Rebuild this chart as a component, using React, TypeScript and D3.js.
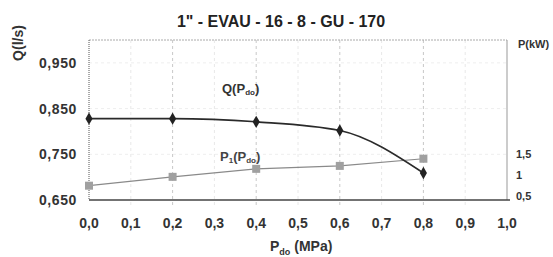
import React from 'react';
import * as d3 from 'd3';

// values
const pressure = [0.0, 0.2, 0.4, 0.6, 0.8];
const flow = [0.828, 0.828, 0.821, 0.802, 0.709];
const power = [0.74, 0.95, 1.14, 1.21, 1.38];
const xTicks = [0, 0.1, 0.2, 0.3, 0.4, 0.5, 0.6, 0.7, 0.8, 0.9, 1.0];
const yTicks = [0.65, 0.75, 0.85, 0.95];
const yRightTicks = [0.5, 1, 1.5];

const W = 553;
const H = 257;
const margin = { top: 40, right: 46, bottom: 57, left: 89 };
const font = '"Liberation Sans", Arial, sans-serif';

const App: React.FC = () => {
  const x = d3.scaleLinear().domain([0, 1]).range([margin.left, W - margin.right]);
  const y = d3.scaleLinear().domain([0.65, 1.0]).range([H - margin.bottom, margin.top]);
  const y2 = d3.scaleLinear().domain([0.4, 4.2]).range([H - margin.bottom, margin.top]);

  const fmt = (v: number, d: number) => v.toFixed(d).replace('.', ',');

  const qLine = d3.line<number>()
    .x((_d, i) => x(pressure[i]))
    .y(d => y(d))
    .curve(d3.curveMonotoneX);
  const pLine = d3.line<number>()
    .x((_d, i) => x(pressure[i]))
    .y(d => y2(d));

  const x0 = x(0), x1 = x(1), yb = y(0.65), yt = y(1.0);
  const diamond = d3.symbol().type(d3.symbolDiamond).size(44)();

  return (
    <svg width={W} height={H} style={{ position: 'absolute', left: 0, top: 0, background: '#fff' }} fontFamily={font}>
      {/* grid */}
      {xTicks.slice(1, -1).map((t, i) => (
        <line key={'gx' + i} x1={x(t)} x2={x(t)} y1={yt} y2={yb + 6}
          stroke={i % 2 === 1 ? '#c8c8c8' : '#e8e8e8'} strokeDasharray="3,3" />
      ))}
      {yTicks.slice(1).map((t, i) => (
        <line key={'gy' + i} x1={x0} x2={x1} y1={y(t)} y2={y(t)} stroke="#eeeeee" strokeDasharray="3,3" />
      ))}
      {/* frame */}
      <line x1={x0} x2={x1} y1={yt} y2={yt} stroke="#aaa" strokeDasharray="2,1" />
      <line x1={x1} x2={x1} y1={yt} y2={yb} stroke="#999" />
      <line x1={x0} x2={x0} y1={yt} y2={yb} stroke="#555" strokeDasharray="1,1" />
      <line x1={x0} x2={x1 + 3} y1={yb} y2={yb} stroke="#444" strokeWidth={1.3} />

      {/* title */}
      <text x={281} y={27} textAnchor="middle" fontSize={16} fontWeight="bold" fill="#222">
        1" - EVAU - 16 - 8 - GU - 170
      </text>

      {/* left axis */}
      {yTicks.map((t, i) => (
        <text key={'yl' + i} x={77} y={y(t) + 5} textAnchor="end" fontSize={14} fontWeight="bold" fill="#333" letterSpacing={0.6}>
          {fmt(t, 3)}
        </text>
      ))}
      <text transform="translate(23,43) rotate(-90)" textAnchor="middle" fontSize={14} fontWeight="bold" fill="#333">
        Q(l/s)
      </text>

      {/* right axis */}
      {yRightTicks.map((t, i) => (
        <text key={'yr' + i} x={516} y={y2(t) + 4} fontSize={11} fontWeight="bold" fill="#333">
          {t === 1 ? '1' : fmt(t, 1)}
        </text>
      ))}
      <text x={518} y={48} fontSize={11} fontWeight="bold" fill="#333">P(kW)</text>

      {/* bottom axis */}
      {xTicks.map((t, i) => (
        <text key={'xl' + i} x={x(t)} y={228} textAnchor="middle" fontSize={14} fontWeight="bold" fill="#333">
          {fmt(t, 1)}
        </text>
      ))}
      <text x={270} y={251} fontSize={14} fontWeight="bold" fill="#333">
        P<tspan fontSize={9} dy={4}>do</tspan><tspan dy={-4}> (MPa)</tspan>
      </text>

      {/* series */}
      <path d={pLine(power) || ''} fill="none" stroke="#8a8a8a" strokeWidth={1.2} />
      {power.map((v, i) => (
        <rect key={'p' + i} x={x(pressure[i]) - 4} y={y2(v) - 4} width={8} height={8} fill="#a0a0a0" />
      ))}
      <path d={qLine(flow) || ''} fill="none" stroke="#2a2a2a" strokeWidth={1.6} />
      {flow.map((v, i) => (
        <path key={'q' + i} d={diamond || ''} transform={`translate(${x(pressure[i])},${y(v)})`} fill="#222" />
      ))}

      {/* series labels */}
      <text x={222} y={93} fontSize={13} fontWeight="bold" fill="#333">
        Q(P<tspan fontSize={8} dy={2}>do</tspan><tspan dy={-2}>)</tspan>
      </text>
      <text x={220} y={161} fontSize={13} fontWeight="bold" fill="#444">
        P<tspan fontSize={8} dy={2}>1</tspan><tspan dy={-2}>(P</tspan><tspan fontSize={8} dy={2}>do</tspan><tspan dy={-2}>)</tspan>
      </text>
    </svg>
  );
};

export default App;
